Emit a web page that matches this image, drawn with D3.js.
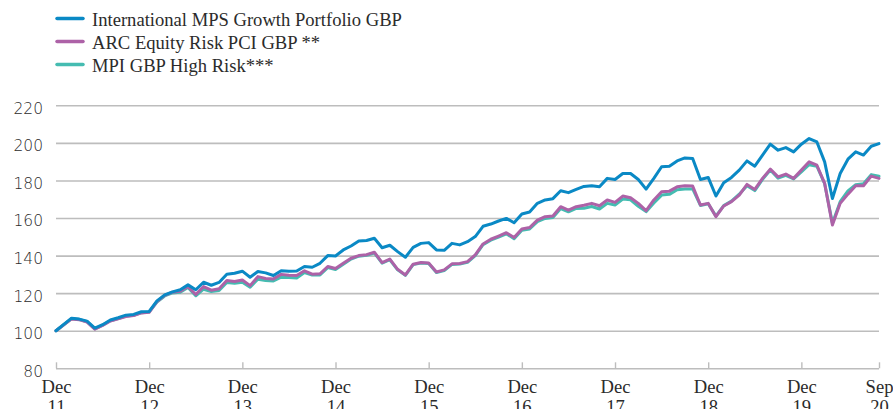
<!DOCTYPE html>
<html>
<head>
<meta charset="utf-8">
<script src="https://cdn.jsdelivr.net/npm/d3@7"></script>
<style>
  body { margin: 0; background: #fff; }
  .legend-label, .x-label { font-family: "Liberation Serif", serif; font-size: 18.6px; fill: #2b2b2b; }
  .y-label { font-family: "DejaVu Sans", sans-serif; font-weight: 300; font-size: 15.5px; fill: #2b2b2b; }
</style>
</head>
<body>
<svg id="chart"></svg>
<script>
// month index 0 = end Nov 2011 (tick "Dec 11"), 106 = end Sep 2020
const mpsGrowth = [
  100, 103.4, 106.7, 106.2, 105.1, 101.4, 103.2, 105.7, 106.9, 108.3, 108.7, 110.1, 110.3,
  115.9, 119.1, 120.7, 121.8, 124.4, 121.8, 125.8, 124.2, 125.7, 130.1, 130.6, 131.7,
  128.5, 131.5, 130.8, 129.4, 131.9, 131.7, 131.8, 134.2, 133.8, 135.9, 140, 139.8,
  143, 145.1, 147.8, 148, 149.2, 144.2, 145.5, 142.1, 139.1, 144.4, 146.5, 146.9,
  143, 142.8, 146.5, 145.7, 147.4, 150.1, 155.6, 156.8, 158.4, 159.8, 157.5, 162.1,
  163.2, 167.8, 169.6, 170.3, 174.5, 173.5, 175.2, 176.8, 177.2, 176.6, 181.1, 180.5,
  183.7, 183.7, 180.5, 175.4, 181.1, 187.3, 187.6, 190.4, 192, 191.7, 180.5, 181.6,
  171.7, 178.8, 181.6, 185.5, 190.4, 187.6, 193.5, 199.3, 196.1, 197.5, 195.2, 199.3,
  202.3, 200.5, 189.9, 170.4, 183.7, 191.3, 195.2, 193.5, 198.2, 199.6
];
const arcEquity = [
  100, 103.1, 106.3, 105.9, 104.6, 100.8, 102.8, 105.2, 106.4, 107.6, 108.1, 109.5, 109.8,
  115.5, 118.8, 120.5, 121, 123.5, 119.3, 123.5, 121.6, 122.3, 126.7, 126.2, 127,
  124, 128.8, 127.8, 127.6, 130, 129.5, 129.4, 131.9, 130.1, 130.3, 134.2, 133.1,
  135.9, 138.6, 140, 140.5, 141.8, 136.3, 138.1, 132.7, 129.7, 135.4, 136.3, 136.1,
  131.3, 132.4, 135.6, 135.8, 136.8, 140.4, 146.2, 148.7, 150.4, 152.2, 149.6, 154.2,
  154.9, 158.9, 160.7, 161.1, 166, 164.2, 166, 166.8, 167.8, 166.5, 169.6, 168.3,
  171.7, 170.8, 167.8, 163.9, 169.6, 174, 174.3, 176.6, 177.2, 177, 166.9, 167.8,
  160.7, 166.4, 168.7, 172.2, 177.9, 175.2, 181.1, 186, 181.9, 183.4, 181.1, 185.5,
  189.9, 188.1, 178.4, 156.3, 167.8, 172.7, 177.2, 177.2, 182.3, 181.1
];
const mpiHighRisk = [
  100, 103.2, 106.4, 106, 104.8, 101, 103, 105.3, 106.5, 107.8, 108.2, 109.6, 110,
  115.3, 118.5, 120.1, 120.5, 123, 118.6, 122.1, 120.9, 121.4, 125.7, 125.3, 125.8,
  123.2, 127.4, 126.7, 126.5, 128.5, 128.3, 128.1, 131, 129.6, 129.7, 133.6, 132.6,
  135.4, 138.2, 139.7, 140.2, 141.4, 136, 137.8, 132.4, 129.5, 135.2, 136, 135.8,
  131, 132, 135.3, 135.5, 136.4, 140, 145.8, 148.2, 149.8, 151.6, 149, 153.5,
  154.2, 158.1, 159.8, 160.3, 165, 163.3, 165.1, 165.2, 166.1, 164.8, 167.8, 166.9,
  170.1, 169.7, 166.2, 163.4, 168, 172.2, 172.6, 175.1, 175.5, 175.5, 166.7, 167.6,
  161, 166.6, 169, 172.7, 177.2, 174.6, 180.6, 185.6, 181.2, 182.7, 180.8, 184.6,
  188.4, 187.6, 178.3, 157.2, 168.7, 174.4, 177.7, 178.3, 183.1, 182.3
];

const seriesNames = ['International MPS Growth Portfolio GBP', 'ARC Equity Risk PCI GBP **', 'MPI GBP High Risk***'];
const seriesColors = ['#0a89c5', '#ad62a7', '#45bcb1'];

const yTicks = [80, 100, 120, 140, 160, 180, 200, 220];
const xTickMonths = [0, 12, 24, 36, 48, 60, 72, 84, 96, 106];
const xTickTop = ['Dec', 'Dec', 'Dec', 'Dec', 'Dec', 'Dec', 'Dec', 'Dec', 'Dec', 'Sep'];
const xTickBottom = ['11', '12', '13', '14', '15', '16', '17', '18', '19', '20'];

const width = 893, height = 409;
const svg = d3.select('#chart').attr('width', width).attr('height', height);

const x = d3.scaleLinear().domain([0, 106]).range([56, 879]);
const y = d3.scaleLinear().domain([80, 220]).range([368.3, 105.3]);

// horizontal gridlines + left labels
const yAxis = d3.axisLeft(y)
    .tickValues(yTicks)
    .tickSize(-(x.range()[1] - x.range()[0]))
    .tickPadding(13)
    .tickFormat(d3.format('d'));

svg.append('g')
    .attr('transform', `translate(${x.range()[0]},0)`)
    .call(yAxis)
    .call(g => g.select('.domain').remove())
    .call(g => g.selectAll('.tick line').attr('stroke', '#bdbdbd').attr('stroke-width', 1.6))
    .call(g => g.selectAll('.tick text')
        .attr('class', 'y-label')
        .attr('dy', '0.9em')
        .attr('y', -6)
        .attr('font-family', null).attr('font-size', null));

// bottom axis: small ticks pointing up, two-line labels
const xAxis = d3.axisBottom(x)
    .tickValues(xTickMonths)
    .tickSize(-6)
    .tickFormat('');

const xg = svg.append('g')
    .attr('transform', `translate(0,${y(80)})`)
    .call(xAxis)
    .call(g => g.select('.domain').remove())
    .call(g => g.selectAll('.tick line').attr('stroke', '#bdbdbd').attr('stroke-width', 1.4));

xg.selectAll('.tick').each(function(d, i) {
  const t = d3.select(this).append('text')
      .attr('class', 'x-label')
      .attr('text-anchor', 'middle')
      .attr('fill', null);
  t.append('tspan').attr('x', 0).attr('y', 25).text(xTickTop[i]);
  t.append('tspan').attr('x', 0).attr('y', 45).text(xTickBottom[i]);
});

// lines, drawn bottom to top: MPI, ARC, MPS
const line = d3.line()
    .x((d, i) => x(i))
    .y(d => y(d));

const drawOrder = [2, 1, 0];
const allSeries = [mpsGrowth, arcEquity, mpiHighRisk];

svg.append('g')
  .selectAll('path')
  .data(drawOrder)
  .join('path')
    .attr('d', k => line(allSeries[k]))
    .attr('fill', 'none')
    .attr('stroke', k => seriesColors[k])
    .attr('stroke-width', 3)
    .attr('stroke-linejoin', 'round')
    .attr('stroke-linecap', 'round');

// legend
const legend = svg.append('g');
const legendRows = legend.selectAll('g')
  .data(seriesNames)
  .join('g')
    .attr('transform', (d, i) => `translate(57,${18.5 + i * 23})`);

legendRows.append('line')
    .attr('x1', 0).attr('x2', 26)
    .attr('stroke', (d, i) => seriesColors[i])
    .attr('stroke-width', 3.5)
    .attr('stroke-linecap', 'round');

legendRows.append('text')
    .attr('class', 'legend-label')
    .attr('x', 35)
    .attr('y', 7)
    .text(d => d);
</script>
</body>
</html>
